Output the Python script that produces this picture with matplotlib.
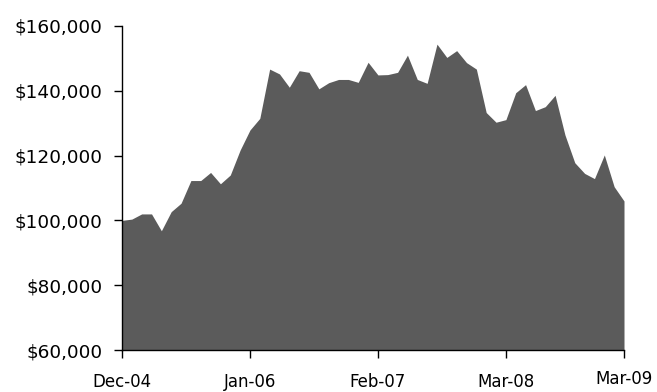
import matplotlib.pyplot as plt
from matplotlib.ticker import FuncFormatter

# Monthly values, Dec-04 through Mar-09
values = [
    100000, 100400, 102000, 102000, 96800, 102700, 105300, 112300, 112300, 114800,
    111300, 114000, 121700, 127900, 131500, 146700, 145200, 141100, 146200, 145700,
    140600, 142500, 143500, 143500, 142600, 148800, 144900, 145000, 145700, 151000,
    143500, 142300, 154400, 150300, 152400, 148700, 146700, 133300, 130300, 131100,
    139400, 141900, 133900, 135100, 138600, 126400, 117800, 114500, 112900, 120200,
    110400, 106000,
]
tick_months = [0, 13, 26, 39, 51]
tick_labels = ["Dec-04", "Jan-06", "Feb-07", "Mar-08", "Mar-09"]

plt.rcParams['font.family'] = ['DejaVu Sans']

fig = plt.figure(figsize=(6.57, 3.92), dpi=100)
ax = fig.add_axes([122 / 657, 42 / 392, 502 / 657, 324 / 392])

x = list(range(len(values)))
ax.fill_between(x, values, 60000, color='#5b5b5b', linewidth=0)

ax.set_xlim(0, len(values) - 1)
ax.set_ylim(60000, 160000)
ax.set_yticks(range(60000, 160001, 20000))
ax.yaxis.set_major_formatter(FuncFormatter(lambda v, p: f"${v:,.0f}"))
ax.set_xticks(tick_months)
ax.set_xticklabels(tick_labels)

for side in ('top', 'right'):
    ax.spines[side].set_visible(False)
for side in ('left', 'bottom'):
    ax.spines[side].set_color('black')
    ax.spines[side].set_linewidth(1.0)

ax.tick_params(axis='y', direction='out', length=6, width=1, pad=8, labelsize=13.3)
ax.tick_params(axis='x', direction='out', length=5.5, width=1, pad=11, labelsize=12)
# last month label sits a little higher than the others
ax.get_xticklabels()[-1].set_y(0.01)

fig.savefig('out.png', dpi=100)
